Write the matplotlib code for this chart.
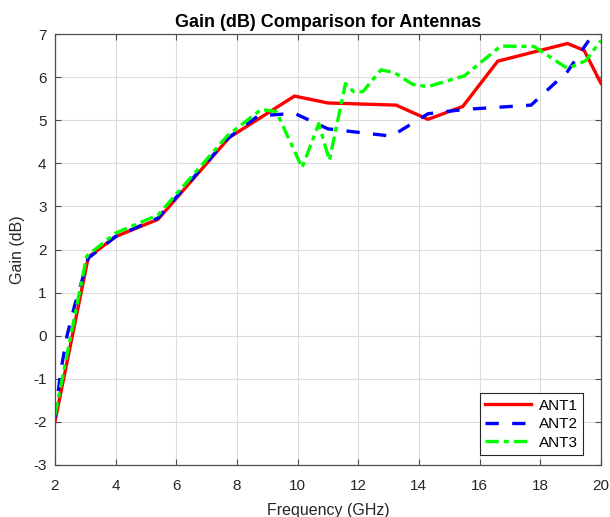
import numpy as np
import matplotlib
matplotlib.use('Agg')
import matplotlib.pyplot as plt

# ---- data ----
ant1_f = [2, 3.1, 4.0, 5.4, 7.75, 9.9, 11.0, 13.25, 14.3, 15.45, 16.6, 18.0, 18.9, 19.45, 20]
ant1_g = [-2.0, 1.82, 2.3, 2.7, 4.6, 5.56, 5.4, 5.35, 5.02, 5.32, 6.37, 6.62, 6.78, 6.62, 5.86]

ant2_f = [2, 2.2, 2.4, 2.65, 2.9, 3.1, 4.0, 5.4, 7.7, 8.7, 9.9, 11.0, 13.1, 14.3, 15.5, 17.7, 18.9, 19.6]
ant2_g = [-1.9, -0.8, 0.0, 0.7, 1.3, 1.8, 2.3, 2.73, 4.58, 5.1, 5.16, 4.8, 4.63, 5.15, 5.25, 5.35, 6.13, 6.85]

ant3_f = [2, 3.05, 4.0, 5.4, 7.7, 8.8, 9.3, 10.15, 10.7, 11.05, 11.58, 11.85, 12.15,
          12.75, 13.2, 13.8, 14.3, 15.5, 16.7, 17.8, 18.9, 19.5, 20]
ant3_g = [-1.85, 1.85, 2.38, 2.8, 4.65, 5.25, 5.2, 3.9, 4.92, 4.07, 5.85, 5.66, 5.66,
          6.17, 6.1, 5.83, 5.78, 6.03, 6.72, 6.71, 6.2, 6.38, 6.85]

labels = ['ANT1', 'ANT2', 'ANT3']
xticks = np.arange(2, 21, 2)
yticks = np.arange(-3, 8, 1)

plt.rcParams['font.family'] = ['Liberation Sans', 'DejaVu Sans']
plt.rcParams['axes.unicode_minus'] = False

fig = plt.figure(figsize=(6.1, 5.17), dpi=100)
ax = fig.add_axes([0.090, 0.1006, 0.895, 0.8336])

ax.plot(ant1_f, ant1_g, color=(1, 0, 0), lw=2.4, ls='-', label=labels[0])
ax.plot(ant2_f, ant2_g, color=(0, 0, 1), lw=2.4, ls=(0, (4, 4)), label=labels[1])
ax.plot(ant3_f, ant3_g, color=(0, 1, 0), lw=2.4, ls=(0, (4, 1.5, 1.5, 1.5)), label=labels[2])

ax.set_xlim(2, 20)
ax.set_ylim(-3, 7)
ax.set_xticks(xticks)
ax.set_yticks(yticks)
ax.grid(True, color='#dcdcdc', lw=0.8)
ax.set_axisbelow(True)

for s in ax.spines.values():
    s.set_color('#4d4d4d')
    s.set_linewidth(0.9)
ax.tick_params(direction='in', length=4, width=0.8, color='#4d4d4d',
               top=True, right=True, labelsize=11, labelcolor='#262626')
ax.tick_params(axis='x', pad=10)
ax.tick_params(axis='y', pad=6)

ax.set_title('Gain (dB) Comparison for Antennas', fontsize=13, fontweight='bold', pad=5)
ax.set_xlabel('Frequency (GHz)', fontsize=11.5, color='#262626', labelpad=7)
ax.set_ylabel('Gain (dB)', fontsize=11.5, color='#262626', labelpad=6)

leg = ax.legend(loc='lower right', bbox_to_anchor=(0.967, 0.023), borderaxespad=0,
                fontsize=11, fancybox=False, framealpha=1, edgecolor='#262626',
                handlelength=3.0, labelspacing=0.3, borderpad=0.35, handletextpad=0.5)
leg.get_frame().set_linewidth(0.8)

fig.savefig('out.png', dpi=100)
